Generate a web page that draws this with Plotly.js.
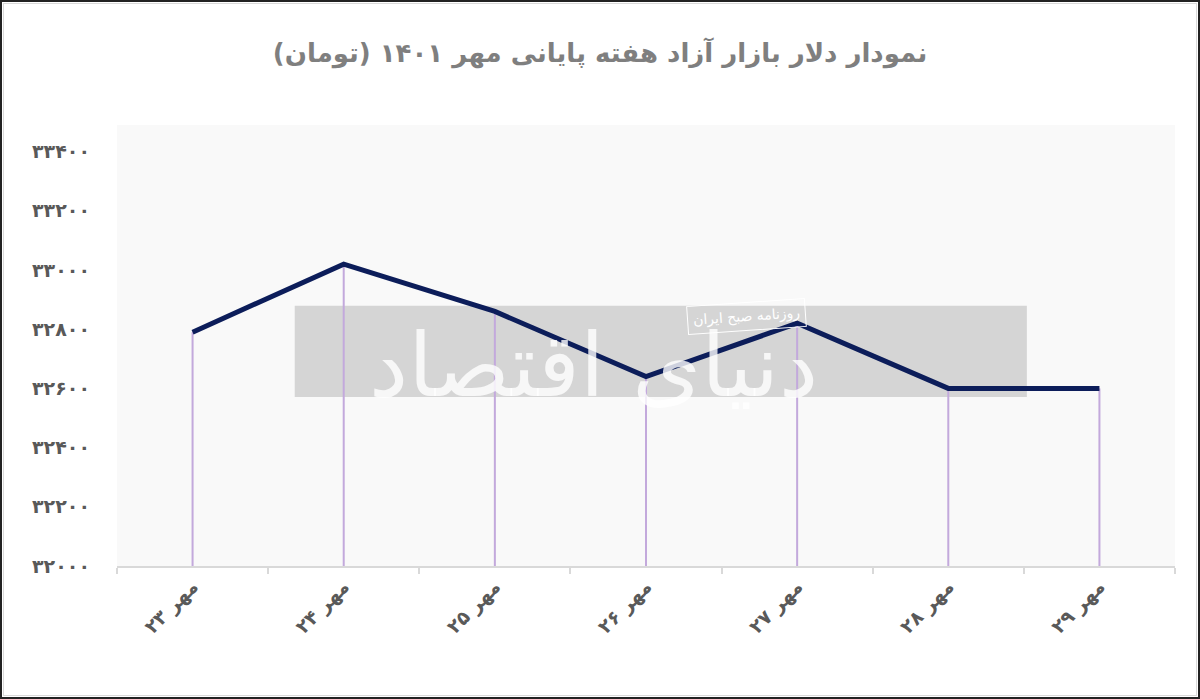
<!DOCTYPE html>
<html>
<head>
<meta charset="utf-8">
<script src="https://cdn.plot.ly/plotly-3.0.1.min.js"></script>
<style>
html,body{margin:0;padding:0;background:#fff;}
#wrap{width:1200px;height:699px;box-sizing:border-box;border:2px solid #222;position:relative;overflow:hidden;}
#chart{position:absolute;left:-2px;top:-2px;width:1200px;height:699px;}
#inner{position:absolute;left:1px;top:1px;right:1px;bottom:1px;border:1px solid #d9d9d9;pointer-events:none;}
</style>
</head>
<body>
<div id="wrap"><div id="chart"></div><div id="inner"></div></div>
<script>
const categories = ['مهر ۲۳','مهر ۲۴','مهر ۲۵','مهر ۲۶','مهر ۲۷','مهر ۲۸','مهر ۲۹'];
const dollarValues = [32790, 33020, 32860, 32640, 32820, 32600, 32600];
const yTickVals = [32000, 32200, 32400, 32600, 32800, 33000, 33200, 33400];
const yTickText = ['۳۲۰۰۰','۳۲۲۰۰','۳۲۴۰۰','۳۲۶۰۰','۳۲۸۰۰','۳۳۰۰۰','۳۳۲۰۰','۳۳۴۰۰'];
const titleText = 'نمودار دلار بازار آزاد هفته پایانی مهر ۱۴۰۱ (تومان)';
const yBase = 32000;

// drop lines from each point to the axis
const dropX = [], dropY = [];
categories.forEach((c, i) => { dropX.push(c, c, null); dropY.push(yBase, dollarValues[i], null); });

const font = 'DejaVu Sans, Noto Sans, sans-serif';

const traces = [
  {x: dropX, y: dropY, type: 'scatter', mode: 'lines',
   line: {color: '#c3a9dc', width: 2}, hoverinfo: 'skip', showlegend: false},
  {x: categories, y: dollarValues, type: 'scatter', mode: 'lines',
   line: {color: '#0c1d5a', width: 5}, showlegend: false}
];

const layout = {
  width: 1200, height: 699,
  margin: {l: 117, r: 25, t: 125, b: 133},
  paper_bgcolor: '#ffffff',
  plot_bgcolor: '#f9f9f9',
  title: {text: '<b>' + titleText + '</b>', x: 0.5, xanchor: 'center', y: 0.925, yanchor: 'middle',
          font: {family: font, size: 26, color: '#7f7f7f'}},
  xaxis: {type: 'category', range: [-0.5, 6.5], showgrid: false, zeroline: false,
          showline: true, linecolor: '#d9d9d9', linewidth: 2,
          ticks: 'outside', tickson: 'boundaries', ticklen: 6, tickcolor: '#d9d9d9', tickwidth: 2,
          tickangle: -45, tickfont: {family: font, size: 19, color: '#595959', weight: 'bold'}},
  yaxis: {range: [32000, 33490], showgrid: false, zeroline: false, showline: false,
          tickvals: yTickVals, ticktext: yTickText, ticks: '', ticklabelstandoff: 26,
          tickfont: {family: font, size: 19, color: '#595959', weight: 'bold'}},
  shapes: [
    {type: 'rect', xref: 'paper', yref: 'paper', x0: 0.168, x1: 0.860, y0: 0.383, y1: 0.590,
     fillcolor: '#d5d5d5', line: {width: 0}, layer: 'below'}
  ],
  annotations: [
    {xref: 'paper', yref: 'paper', x: 0.45, y: 0.455, text: 'دنیای اقتصاد', showarrow: false,
     font: {family: font, size: 88, color: 'rgba(255,255,255,0.8)'}},
    {xref: 'paper', yref: 'paper', x: 0.595, y: 0.565, text: 'روزنامه صبح ایران', showarrow: false,
     textangle: -4, bordercolor: '#ffffff', borderwidth: 1, borderpad: 5,
     font: {family: font, size: 14, color: '#ffffff'}}
  ]
};

Plotly.newPlot('chart', traces, layout, {displayModeBar: false, staticPlot: true});
</script>
</body>
</html>
